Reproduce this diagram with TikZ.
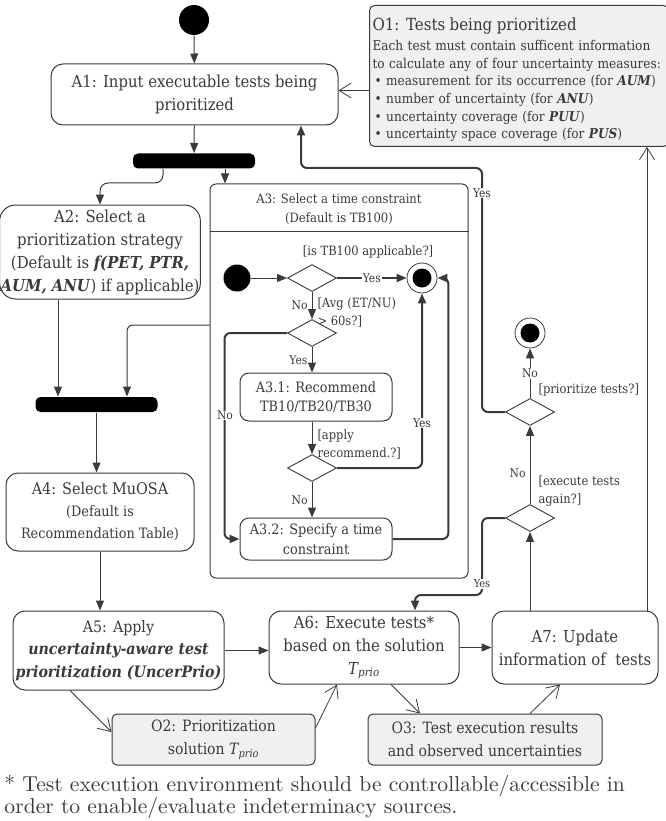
\documentclass[tikz,border=0pt]{standalone}
\usepackage{fontspec}
\setmainfont{DejaVu Serif Condensed}
\newfontfamily\notefont{lmroman10-regular.otf}
\usetikzlibrary{arrows.meta,shapes.geometric,positioning}
\definecolor{linec}{RGB}{58,58,58}
\definecolor{objfill}{RGB}{240,240,242}
\newcommand{\tprio}{\textit{T\textsubscript{prio}}}
\begin{document}
\begin{tikzpicture}[x=1pt, y=-1pt, line width=1pt, color=linec,
	act/.style={rectangle, rounded corners=12pt, draw, fill=white, align=center, inner sep=1pt, font=\fontsize{16.5}{23}\selectfont},
	obj/.style={act, rounded corners=5pt, fill=objfill, font=\fontsize{15.6}{23}\selectfont},
	sub/.style={act, rounded corners=9pt, font=\fontsize{14.3}{19.5}\selectfont},
	bar/.style={rectangle, rounded corners=5pt, fill=black, minimum width=122pt, minimum height=15pt, inner sep=0},
	start/.style={circle, fill=black, minimum size=30pt, inner sep=0},
	fin/.style={circle, draw, line width=0.8pt, fill=white, minimum size=30pt, inner sep=0,
		path picture={\fill[black] (path picture bounding box.center) circle (9.5pt);}},
	dec/.style={diamond, draw, line width=0.9pt, fill=white, minimum width=49pt, minimum height=27pt, inner sep=0},
	flow/.style={-{Triangle[length=10pt,width=8pt]}, rounded corners=6pt},
	heavy/.style={flow, line width=2pt},
	oflow/.style={-{Straight Barb[length=12pt,width=15pt]}, line width=0.8pt},
	lbl/.style={inner sep=1pt, font=\fontsize{12}{15}\selectfont},
	guard/.style={lbl, align=left, font=\fontsize{12.8}{18}\selectfont}]
	\useasboundingbox (0,0) rectangle (665,821);
	
	% main flow
	\node[start] (init) at (194,20) {};
	\node[act, minimum width=287pt, minimum height=61pt] (A1) at (194.5,94.5) {A1: Input executable tests being\\prioritized};
	\node[bar] (fork) at (194,161) {};
	\node[act, rounded corners=16pt, minimum width=188pt, minimum height=94pt] (A2) at (100,252)
		{A2: Select a\\prioritization strategy\\(Default is \textbf{\textit{f(PET, PTR,}}\\\textbf{\textit{AUM, ANU}}) if applicable)};
	\node[bar] (join) at (96.5,404.5) {};
	\node[act, font=\fontsize{14.3}{22}\selectfont, minimum width=188pt, minimum height=78pt] (A4) at (100,512)
		{{\fontsize{16}{22}\selectfont A4: Select MuOSA}\\(Default is\\Recommendation Table)};
	\node[act, font=\fontsize{15.8}{22.5}\selectfont, minimum width=211pt, minimum height=79pt] (A5) at (118.5,650.5)
		{A5: Apply\\\textbf{\textit{uncertainty-aware test}}\\\textbf{\textit{prioritization (UncerPrio)}}};
	\node[act, minimum width=190pt, minimum height=73pt] (A6) at (364,647.5) {A6: Execute tests*\\based on the solution\\\tprio};
	\node[act, minimum width=166pt, minimum height=73pt] (A7) at (575,647.5) {A7: Update\\information of\ \ tests};
	\node[obj, minimum width=203pt, minimum height=51pt] (O2) at (213.5,739.5) {O2: Prioritization\\solution \tprio};
	\node[obj, minimum width=234pt, minimum height=51pt] (O3) at (485,739.5) {O3: Test execution results\\and observed uncertainties};
	\node[obj, anchor=north west, minimum width=299pt, minimum height=141pt] (O1) at (369,5) {};
	\node[anchor=north west, text width=292pt, align=left, inner sep=0, font=\fontsize{13.5}{17.6}\selectfont] (O1text) at (372,17.5)
		{{\fontsize{16.7}{20}\selectfont O1: Tests being prioritized}\\[2.4pt]
		Each test must contain sufficent information\\
		to calculate any of four uncertainty measures:\\
		\hspace*{2pt}\textbullet\ measurement for its occurrence (for \textbf{\textit{AUM}})\\
		\hspace*{2pt}\textbullet\ number of uncertainty (for \textbf{\textit{ANU}})\\
		\hspace*{2pt}\textbullet\ uncertainty coverage (for \textbf{\textit{PUU}})\\
		\hspace*{2pt}\textbullet\ uncertainty space coverage (for \textbf{\textit{PUS}})};
	
	% A3: select a time constraint
	\node[draw, rounded corners=6pt, minimum width=258pt, minimum height=394pt, inner sep=0] (A3) at (339,381) {};
	\node[lbl, align=center, font=\fontsize{12.9}{19}\selectfont] (A3head) at (339,209.5) {A3: Select a time constraint\\(Default is TB100)};
	\draw ([yshift=-48pt]A3.north west) -- ([yshift=-48pt]A3.north east);
	\node[start, minimum size=27pt] (init2) at (237,278) {};
	\node[dec] (D1) at (312,278) {};
	\node[fin] (fin1) at (422,278) {};
	\node[dec] (D2) at (312,333) {};
	\node[sub, minimum width=152pt, minimum height=48pt] (A31) at (316,397) {A3.1: Recommend\\TB10/TB20/TB30};
	\node[dec] (D3) at (312,468) {};
	\node[sub, minimum width=152pt, minimum height=42pt] (A32) at (316,539) {A3.2: Specify a time\\constraint};
	\node[guard] (g1) at (368,252) {[is TB100 applicable?]};
	\node[guard, anchor=north west] (g2) at (316,296) {[Avg (ET/NU)\\> 60s?]};
	\node[guard, anchor=north west] (g3) at (316,428) {[apply\\recommend.?]};
	
	% decisions on the right
	\node[fin] (fin2) at (530,333) {};
	\node[dec] (D5) at (530,412) {};
	\node[dec] (D4) at (530,518) {};
	\node[guard, anchor=west] (g5) at (537,390) {[prioritize tests?]};
	\node[guard, anchor=north west] (g4) at (537,474) {[execute tests\\again?]};
	\coordinate (loop) at (482,168);
	\coordinate (back) at (482,595);
	
	\draw[flow] (init) -- (A1);
	\draw[flow] (A1) -- (fork);
	\draw[flow, rounded corners=8pt] ([xshift=-31pt]fork.south) -- ++(0,14) -| (A2.north);
	\draw[flow] ([xshift=31pt]fork.south) -- ([xshift=31pt]fork.south |- A3.north);
	\draw[flow] ([xshift=-42pt]A2.south) -- ([xshift=-42pt]A2.south |- join.north);
	\draw[flow] ([yshift=56pt]A3.west) -| ([xshift=30.5pt]join.north);
	\draw[flow] (join.south) -- (join.south |- A4.north);
	\draw[flow] (A4.south) -- (A4.south |- A5.north);
	\draw[flow] (A5.east) -- (A5.east -| A6.west);
	\draw[flow] (A6) -- (A7);
	\draw[oflow] ([xshift=-48.5pt]A5.south) -- ([yshift=7.5pt]O2.west);
	\draw[oflow] ([yshift=11.5pt]O2.east) -- ([xshift=-27pt]A6.south);
	\draw[oflow] ([xshift=27pt]A6.south) -- ([xshift=-65pt]O3.north);
	\draw[oflow] ([xshift=45pt]O3.north) -- ([xshift=-15pt]A7.south);
	\draw[oflow] ([xshift=72pt]A7.north) -- ([xshift=72pt]A7.north |- O1.south);
	\draw[oflow] ([yshift=-14.5pt]O1.west) -- ([yshift=-14.5pt]O1.west -| A1.east);
	
	\begin{scope}
	\draw[flow] (init2) -- (D1);
	\draw[heavy] (D1) -- node[lbl, fill=white] (y1) {Yes} (fin1);
	\draw[flow] (D1) -- node[lbl, left=3pt] (n1) {No} (D2);
	\draw[flow] (D2) -- node[lbl, left=3pt] (y2) {Yes} (A31.north -| D2);
	\draw[heavy] (D2.west) -| ([xshift=-15pt]A32.west) -- (A32.west);
	\draw[flow] (A31.south -| D3) -- (D3);
	\draw[heavy] (D3.east) -| (fin1.south);
	\draw[flow] (D3) -- node[lbl, left=3pt] (n3) {No} (A32.north -| D3);
	\draw[heavy] (A32.east) -| ([xshift=11pt]fin1.east) -- (fin1.east);
	\node[lbl, fill=white] (n2) at (225,415) {No};
	\node[lbl, fill=white] (y3) at (422,423) {Yes};
	\end{scope}
	
	\begin{scope}
	\draw[flow] (D4.south |- A7.north) -- (D4.south);
	\draw[flow] (D4) -- node[lbl, left=3pt, pos=0.4] (n4) {No} (D5);
	\draw[flow] (D5) -- node[lbl, fill=white] (n5) {No} (fin2);
	\draw[heavy] (D5.west) -| (loop) -| ([xshift=106.5pt]A1.south);
	\draw[heavy] (D4.west) -| (back) -| ([xshift=51pt]A6.north);
	\node[lbl, fill=white] (y5) at (482,193) {Yes};
	\node[lbl, fill=white, font=\fontsize{11}{14}\selectfont] (y4) at (482,584) {Yes};
	\end{scope}
	
	\node[anchor=north west, align=left, inner sep=0, font=\notefont\fontsize{21.6}{22}\selectfont] (note) at (4,775)
		{* Test execution environment should be controllable/accessible in\\order to enable/evaluate indeterminacy sources.};
\end{tikzpicture}
\end{document}
